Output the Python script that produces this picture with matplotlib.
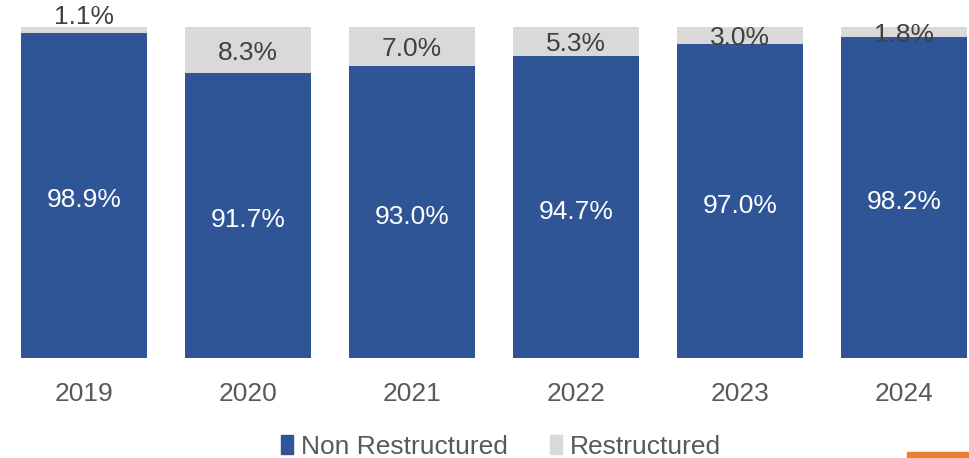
import matplotlib.pyplot as plt
from matplotlib.patches import Patch, Rectangle
import numpy as np

years = ['2019', '2020', '2021', '2022', '2023', '2024']
non_restructured = [98.9, 91.7, 93.0, 94.7, 97.0, 98.2]
restructured = [1.1, 8.3, 7.0, 5.3, 3.0, 1.8]

blue = '#2F5597'
grey = '#D9D9D9'
txt = '#404040'

plt.rcParams['font.family'] = ['Liberation Sans', 'DejaVu Sans']

fig = plt.figure(figsize=(9.69, 4.58), dpi=100)
ax = fig.add_axes([0, 100 / 458, 1, 331 / 458])

x = np.arange(len(years))
ax.bar(x, non_restructured, 0.77, color=blue)
ax.bar(x, restructured, 0.77, bottom=non_restructured, color=grey)

ax.set_xlim(-84 / 164, (969 - 84) / 164)
ax.set_ylim(40, 100)

for i in range(len(years)):
    ax.text(x[i], (40 + non_restructured[i]) / 2 - 0.9, f'{non_restructured[i]:.1f}%',
            ha='center', va='center', color='white', fontsize=19)
    if restructured[i] < 1.5:
        ax.text(x[i], 99.7, f'{restructured[i]:.1f}%', ha='center', va='bottom',
                color=txt, fontsize=19, clip_on=False)
    else:
        ax.text(x[i], non_restructured[i] + restructured[i] / 2 - 0.5, f'{restructured[i]:.1f}%',
                ha='center', va='center', color=txt, fontsize=19)

ax.set_xticks(x, years)
ax.tick_params(axis='x', length=0, pad=17, labelsize=19, labelcolor='#595959')
ax.set_yticks([])
for s in ax.spines.values():
    s.set_visible(False)

handles = [Patch(color=blue, label='Non Restructured'), Patch(color=grey, label='Restructured')]
fig.legend(handles=handles, loc='center', bbox_to_anchor=(0.517, 0.024), ncol=2, frameon=False,
           fontsize=19, labelcolor='#595959', handlelength=0.45, handleheight=0.75,
           handletextpad=0.3, columnspacing=1.6)

fig.patches.append(Rectangle((907 / 969, 0), 62 / 969, 6 / 458, transform=fig.transFigure,
                             color='#ED7D31'))

fig.savefig('out.png', dpi=100)
